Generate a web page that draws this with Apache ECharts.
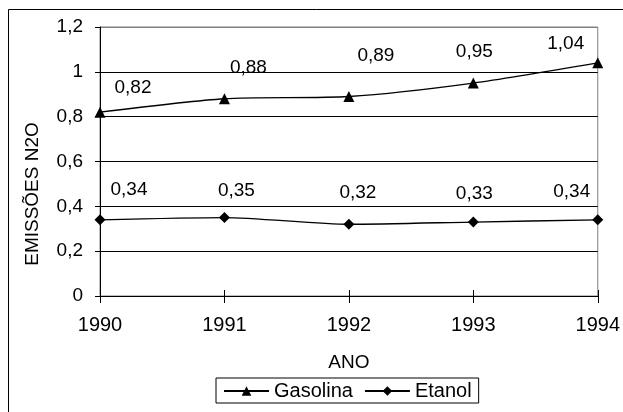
<!DOCTYPE html>
<html>
<head>
<meta charset="utf-8">
<script src="https://cdn.jsdelivr.net/npm/echarts@6/dist/echarts.min.js"></script>
<style>
html,body{margin:0;padding:0;background:#fff;}
#c{width:623px;height:412px;}
</style>
</head>
<body>
<div id="c"></div>
<script>
const years = ['1990', '1991', '1992', '1993', '1994'];
const gasolina = [0.82, 0.88, 0.89, 0.95, 1.04];
const etanol = [0.34, 0.35, 0.32, 0.33, 0.34];
const seriesNames = ['Gasolina', 'Etanol'];
const yTitle = 'EMISSÕES N2O';
const xTitle = 'ANO';

// label offsets (style only)
const gasLabelOffsets = [[33, -24], [24, -31], [27, -41], [1, -31], [-32, -19]];
const etaLabelOffsets = [[29, -30], [12, -27], [9, -32], [1, -28], [-26, -28]];

const FONT = '"Liberation Sans", Arial, sans-serif';
const fmt2 = v => v.toFixed(2).replace('.', ',');

function build(vals, offs) {
  return vals.map((v, i) => ({ value: v, label: { offset: offs[i] } }));
}

const chart = echarts.init(document.getElementById('c'), null, { renderer: 'canvas' });
chart.setOption({
  animation: false,
  backgroundColor: '#fff',
  textStyle: { fontFamily: FONT, color: '#000' },
  grid: { left: 100, right: 23, top: 27, bottom: 116, show: true, borderColor: '#808080', borderWidth: 1, backgroundColor: 'transparent' },
  graphic: [
    { type: 'rect', shape: { x: 8.5, y: 9.5, width: 800, height: 600 }, style: { fill: 'none', stroke: '#000', lineWidth: 1 }, z: -10, silent: true },
    { type: 'text', x: 33, y: 194, rotation: Math.PI / 2,
      style: { text: yTitle, fontSize: 19, fontFamily: FONT, fill: '#000', align: 'center', verticalAlign: 'middle' } }
  ],
  legend: {
    left: 216, top: 378,
    padding: [3, 7, 2, 7],
    borderColor: '#000', borderWidth: 1, borderRadius: 0,
    itemWidth: 45, itemHeight: 12, itemGap: 11,
    textStyle: { fontSize: 20, fontFamily: FONT, color: '#000' },
    data: seriesNames
  },
  xAxis: [{
    type: 'category', data: years, boundaryGap: false,
    name: xTitle, nameLocation: 'middle', nameGap: 57,
    nameTextStyle: { fontSize: 19, fontFamily: FONT, color: '#000' },
    axisLine: { lineStyle: { color: '#000', width: 1 } },
    axisTick: { show: true, length: 7, lineStyle: { color: '#000' }, alignWithLabel: true },
    axisLabel: { fontSize: 20, fontFamily: FONT, color: '#000', margin: 19 },
    splitLine: { show: false }
  }, {
    type: 'category', data: years, boundaryGap: false, position: 'bottom',
    axisLine: { show: false },
    axisTick: { show: true, inside: true, length: 6, lineStyle: { color: '#000' } },
    axisLabel: { show: false },
    splitLine: { show: false }
  }],
  yAxis: {
    type: 'value', min: 0, max: 1.2, interval: 0.2,
    axisLine: { show: true, lineStyle: { color: '#000', width: 1 } },
    axisTick: { show: true, length: 5, lineStyle: { color: '#000' } },
    axisLabel: { fontSize: 19, fontFamily: FONT, color: '#000', margin: 17,
      formatter: v => String(+v.toFixed(1)).replace('.', ',') },
    splitLine: { show: true, lineStyle: { color: ['#000', '#000', '#000', '#000', '#000', '#000', '#808080'], width: 1 } }
  },
  series: [{
    name: seriesNames[0], type: 'line', data: build(gasolina, gasLabelOffsets),
    smooth: 0.25, symbol: 'triangle', symbolSize: 11,
    itemStyle: { color: '#000' }, lineStyle: { color: '#000', width: 1.3 },
    label: { show: true, position: 'inside', fontSize: 19, fontFamily: FONT, color: '#000', formatter: p => fmt2(p.value) }
  }, {
    name: seriesNames[1], type: 'line', data: build(etanol, etaLabelOffsets),
    smooth: 0.25, symbol: 'diamond', symbolSize: 11,
    itemStyle: { color: '#000' }, lineStyle: { color: '#000', width: 1.3 },
    label: { show: true, position: 'inside', fontSize: 19, fontFamily: FONT, color: '#000', formatter: p => fmt2(p.value) }
  }]
});
</script>
</body>
</html>
